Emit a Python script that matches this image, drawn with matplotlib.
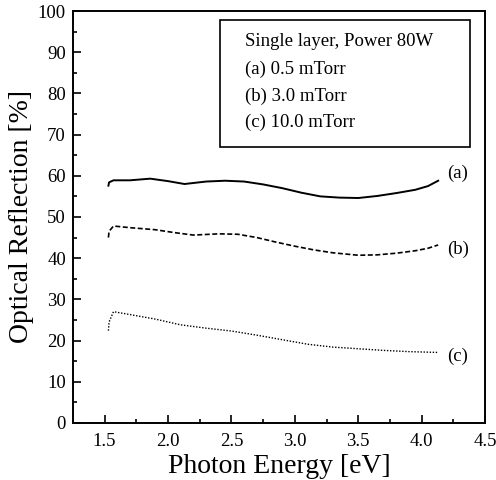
import matplotlib
matplotlib.use("Agg")
import matplotlib.pyplot as plt
from matplotlib.ticker import MultipleLocator
from matplotlib.patches import Rectangle

plt.rcParams['font.family'] = ['Liberation Serif', 'DejaVu Serif']

energy_a = [1.53, 1.535, 1.57, 1.7, 1.86, 2.0, 2.13, 2.3, 2.45, 2.6, 2.75, 2.9, 3.05, 3.2, 3.35, 3.5, 3.65, 3.8, 3.95, 4.05, 4.13]
refl_a = [57.6, 58.4, 58.9, 58.9, 59.3, 58.7, 58.0, 58.6, 58.8, 58.6, 57.9, 57.0, 55.9, 55.0, 54.7, 54.6, 55.1, 55.8, 56.6, 57.5, 58.8]

energy_b = [1.53, 1.535, 1.57, 1.7, 1.9, 2.05, 2.2, 2.4, 2.55, 2.7, 2.85, 3.0, 3.15, 3.3, 3.5, 3.65, 3.8, 3.95, 4.05, 4.13]
refl_b = [45.0, 46.5, 47.8, 47.4, 46.9, 46.2, 45.6, 45.9, 45.8, 45.0, 43.9, 42.9, 42.0, 41.3, 40.7, 40.8, 41.2, 41.8, 42.4, 43.2]

energy_c = [1.53, 1.535, 1.57, 1.7, 1.9, 2.1, 2.3, 2.5, 2.7, 2.9, 3.1, 3.3, 3.5, 3.7, 3.9, 4.13]
refl_c = [22.4, 24.5, 27.0, 26.3, 25.2, 23.8, 23.0, 22.3, 21.3, 20.2, 19.1, 18.4, 18.0, 17.6, 17.3, 17.1]

labels = ['(a)', '(b)', '(c)']
legend_lines = ['Single layer, Power 80W', '(a) 0.5 mTorr', '(b) 3.0 mTorr', '(c) 10.0 mTorr']

fig = plt.figure(figsize=(4.96, 4.8), dpi=100)
ax = fig.add_axes([0.147, 0.119, 0.831, 0.858])

ax.plot(energy_a, refl_a, color='black', lw=1.4, ls='-')
ax.plot(energy_b, refl_b, color='black', lw=1.2, ls=(0, (3, 1.5)))
ax.plot(energy_c, refl_c, color='black', lw=1.0, ls=(0, (1, 1.2)))

label_dy = [1.8, -1.0, -1.0]
for lab, xs, ys, dy in zip(labels, [energy_a, energy_b, energy_c], [refl_a, refl_b, refl_c], label_dy):
    ax.text(xs[-1] + 0.07, ys[-1] + dy, lab, fontsize=13.5, va='center', ha='left')

ax.set_xlim(1.25, 4.5)
ax.set_ylim(0, 100)
ax.xaxis.set_major_locator(MultipleLocator(0.5))
ax.xaxis.set_minor_locator(MultipleLocator(0.25))
ax.yaxis.set_major_locator(MultipleLocator(10))
ax.yaxis.set_minor_locator(MultipleLocator(5))
ax.tick_params(which='both', direction='in', top=False, right=False, labelsize=13.5, width=1.2)
ax.tick_params(which='major', length=6)
ax.tick_params(which='minor', length=3)
ax.set_xticks([1.5, 2.0, 2.5, 3.0, 3.5, 4.0, 4.5])
ax.set_xticklabels(['1.5', '2.0', '2.5', '3.0', '3.5', '4.0', '4.5'])
ax.tick_params(axis='x', pad=7)
ax.tick_params(axis='y', pad=5)
for s in ax.spines.values():
    s.set_linewidth(1.4)

ax.set_xlabel('Photon Energy [eV]', fontsize=20, labelpad=3)
ax.set_ylabel('Optical Reflection [%]', fontsize=20, labelpad=3)

# legend box (text only)
box = Rectangle((220 / 496, 1 - 147 / 480), 250 / 496, 127 / 480, transform=fig.transFigure,
                fill=False, lw=1.2, ec='black')
fig.patches.append(box)
ys = [1 - 41 / 480, 1 - 69 / 480, 1 - 96 / 480, 1 - 122 / 480]
for t, y in zip(legend_lines, ys):
    fig.text(245 / 496, y, t, fontsize=13.5, va='center', ha='left')

fig.savefig('out.png', dpi=100)
